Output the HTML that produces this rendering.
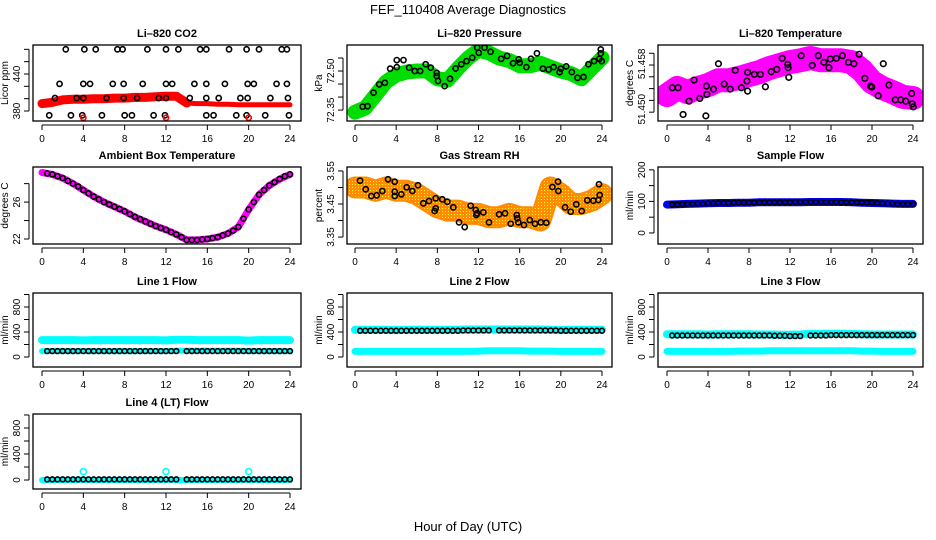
<!DOCTYPE html>
<html><head><meta charset="utf-8"><style>
html,body{margin:0;padding:0;background:#fff;}
svg{display:block;font-family:"Liberation Sans",Arial,sans-serif;}
</style></head><body>
<svg id="chart" width="936" height="540" viewBox="0 0 936 540" xmlns="http://www.w3.org/2000/svg">
<defs>
<pattern id="dots" width="3" height="3" patternUnits="userSpaceOnUse"><rect width="3" height="3" fill="#ff8c00"/><rect x="1" y="1" width="1" height="1" fill="#ffff00"/></pattern>
</defs>
<text x="468" y="14" font-size="13" text-anchor="middle">FEF_110408  Average Diagnostics</text>
<text x="468" y="531" font-size="13" text-anchor="middle">Hour of Day (UTC)</text>
</svg>
<script>
// ---------- data ----------
const hourTicks = [0,4,8,12,16,20,24];
const hourly = [0,1,2,3,4,5,6,7,8,9,10,11,12,13,14,15,16,17,18,19,20,21,22,23,24];
const halfHours = [0.5,1,1.5,2,2.5,3,3.5,4,4.5,5,5.5,6,6.5,7,7.5,8,8.5,9,9.5,10,10.5,11,11.5,12,12.5,13,13.5,14,14.5,15,15.5,16,16.5,17,17.5,18,18.5,19,19.5,20,20.5,21,21.5,22,22.5,23,23.5,24];
const flowHours = [0.5,1,1.5,2,2.5,3,3.5,4,4.5,5,5.5,6,6.5,7,7.5,8,8.5,9,9.5,10,10.5,11,11.5,12,12.5,13,14,14.5,15,15.5,16,16.5,17,17.5,18,18.5,19,19.5,20,20.5,21,21.5,22,22.5,23,23.5,24];

// CO2
const co2Band = [392,394,398,399,399,400,400,401,401,402,402,403,404,404,393,392,392,391,391,390,390,390,390,390,390];
const co2CircH = [2.3,4.1,5.2,7.3,7.8,10.2,12.0,13.2,15.3,15.9,18.1,19.8,21.0,23.2,23.7, 1.7,4.0,4.65,6.85,7.9,9.75,12.0,12.6,14.75,15.9,17.7,19.9,20.5,22.7,23.7, 1.25,3.35,4.0,6.25,7.9,9.2,11.3,12.0,14.3,15.9,17.1,19.2,19.9,22.1,23.8, 0.7,2.8,3.9,5.8,8.0,8.7,10.8,11.9,15.9,16.6,18.8,19.8,21.6,23.9];
const co2CircV = [480,480,480,480,480,480,480,480,480,480,480,480,480,480,480, 424,424,424,424,424,424,424,424,424,424,424,424,424,424,424, 401,401,401,401,401,401,401,401,401,401,401,401,401,401,401, 373,373,373,373,373,373,373,373,373,373,373,373,373,373];
const co2RedH = [4,12,20];
const co2RedV = [369,369,369];

// Pressure
const presBand = [72.342,72.358,72.408,72.458,72.485,72.496,72.50,72.50,72.47,72.465,72.51,72.55,72.58,72.57,72.55,72.54,72.52,72.52,72.53,72.515,72.50,72.49,72.47,72.51,72.55];
const presCircH = [0.74,1.22,1.8,2.35,2.9,3.42,4.06,4.06,4.71,5.26,5.81,6.33,6.87,7.36,7.94,7.94,8.07,8.71,9.23,9.78,10.33,10.84,11.39,11.87,12.03,12.59,13.17,14.2,14.78,15.36,15.91,16.0,16.65,17.1,17.68,18.26,18.81,19.3,19.88,20.0,20.52,21.07,21.62,22.2,22.68,23.23,23.75,23.88,23.88,23.97];
const presCircV = [72.363,72.365,72.417,72.449,72.455,72.509,72.515,72.542,72.542,72.513,72.50,72.50,72.526,72.513,72.493,72.481,72.462,72.442,72.470,72.510,72.526,72.538,72.551,72.590,72.570,72.590,72.574,72.547,72.558,72.530,72.545,72.532,72.515,72.547,72.568,72.509,72.506,72.515,72.496,72.509,72.518,72.496,72.474,72.477,72.526,72.538,72.547,72.583,72.568,72.538];

// Li-820 Temperature
const tempBand = [51.4529,51.4541,51.4534,51.4541,51.4546,51.4554,51.4554,51.4558,51.4563,51.4568,51.4575,51.4580,51.4585,51.4588,51.4592,51.4588,51.4588,51.4588,51.4585,51.4571,51.4551,51.4541,51.4534,51.4526,51.4524];
const tempCircH = [0.52,1.08,2.15,1.57,2.64,3.2,3.79,3.85,3.89,4.54,5.02,5.58,6.17,6.66,7.25,7.8,7.86,7.86,8.52,9.11,9.6,10.16,10.71,11.24,11.78,11.82,11.88,13.09,14.17,14.76,15.31,15.8,15.93,16.52,17.11,17.7,18.24,18.74,19.3,19.85,19.98,20.6,21.1,21.65,22.27,22.8,23.3,23.87,23.93,24.03];
const tempCircV = [51.45414,51.45414,51.45187,51.44961,51.45545,51.45233,51.44937,51.45443,51.45301,51.45391,51.45822,51.45477,51.45391,51.4571,51.45414,51.45528,51.45676,51.45357,51.45642,51.45642,51.45431,51.45686,51.45727,51.45914,51.45812,51.45754,51.45591,51.45958,51.45795,51.45958,51.45846,51.45754,51.45902,51.45914,51.45958,51.45846,51.45822,51.45982,51.45574,51.45443,51.45426,51.45277,51.45822,51.4546,51.45209,51.45209,51.45187,51.45318,51.45141,51.4509];

// Ambient box temperature
const ambBand = [29.2,29.0,28.6,28.0,27.3,26.6,26.0,25.5,25.0,24.4,23.9,23.4,23.0,22.5,21.9,21.9,22.0,22.2,22.6,23.3,25.2,26.8,27.8,28.5,29.0];
const ambCirc = [29.1,29.0,28.8,28.6,28.3,28.0,27.7,27.3,26.95,26.6,26.3,26.0,25.75,25.5,25.25,25.0,24.7,24.4,24.15,23.9,23.65,23.4,23.2,23.0,22.75,22.5,22.2,21.9,21.9,21.9,21.95,22.0,22.1,22.2,22.4,22.6,22.9,23.3,24.2,25.2,26.0,26.8,27.3,27.8,28.15,28.5,28.8,29.0];

// Gas stream RH
const rhBand = [3.50,3.50,3.49,3.50,3.49,3.49,3.48,3.46,3.44,3.43,3.43,3.42,3.42,3.41,3.41,3.42,3.41,3.41,3.40,3.50,3.48,3.45,3.45,3.46,3.48];
const rhCircH = [0.49,1.04,1.59,2.11,2.66,3.21,3.86,3.86,3.86,4.5,5.02,5.57,6.12,6.64,7.19,7.74,7.84,7.84,8.48,8.97,9.55,10.11,10.66,11.24,11.73,11.79,11.88,12.47,13.02,14.0,14.58,15.13,15.72,15.77,15.87,16.42,16.98,17.49,18.05,18.59,19.18,19.73,19.76,20.41,20.96,21.5,22.03,22.57,23.16,23.65,23.71,23.78];
const rhCircV = [3.5206,3.4945,3.4742,3.4764,3.4894,3.5248,3.5176,3.4873,3.4742,3.4794,3.5006,3.4894,3.5067,3.4521,3.4591,3.4288,3.4370,3.4673,3.4642,3.4570,3.4400,3.3945,3.3803,3.4448,3.4318,3.4167,3.4218,3.4248,3.3945,3.4188,3.4218,3.3903,3.4167,3.4067,3.3945,3.3864,3.4015,3.3903,3.3945,3.3933,3.5015,3.5176,3.4894,3.4400,3.4267,3.4491,3.4288,3.4612,3.4600,3.4621,3.5097,3.4773];

// Flows
const sampleBand = [90,91,92,93,94,95,95,96,96,97,97,97,97,97,98,98,98,98,97,96,95,94,93,92,92];
const sampleCirc = [90,90,91,92,92,93,93,94,94,95,95,95,96,96,96,96,96,97,97,97,97,97,97,97,98,98,98,98,98,98,98,98,98,97,97,97,97,96,96,96,95,94,93,93,92,92,92,92];
const line1Upper = [270,270,270,270,265,270,270,270,270,270,270,270,265,275,275,270,270,270,270,270,262,270,270,270,270];
const line1Lower = [95,95,95,95,95,95,95,95,95,95,95,95,95,100,100,100,100,100,100,100,95,95,95,95,95];
const line1Circ = [95,95,95,95,95,95,95,95,95,95,95,95,95,95,95,95,95,95,95,95,95,95,95,95,95,95,95,95,95,95,95,95,95,95,95,95,95,95,95,95,95,95,95,95,95,95,95];
const line2Upper = [435,435,435,435,430,435,435,435,435,435,435,440,440,440,440,440,440,440,440,435,430,435,435,435,435];
const line2Lower = [90,90,90,90,90,90,90,90,90,90,90,90,95,100,100,100,100,95,95,95,90,90,90,90,90];
const line2Circ = [420,420,420,420,420,420,420,420,420,420,420,420,420,420,420,420,420,420,420,420,425,425,425,425,425,425,425,425,425,425,425,425,425,425,425,425,425,425,420,420,420,420,420,420,420,420,420];
const line3Upper = [365,365,365,365,360,365,365,365,365,360,360,355,355,360,370,370,375,375,370,365,360,360,360,360,360];
const line3Lower = [90,90,90,90,90,90,90,95,95,95,100,100,100,100,100,100,100,100,100,95,95,90,90,90,90];
const line3Circ = [345,345,345,345,345,345,345,345,345,345,345,345,345,345,345,345,345,345,345,345,340,340,340,335,335,335,345,345,345,345,350,350,350,350,350,350,350,350,350,350,350,350,350,350,350,350,350];
const line4Band = [0,0,0,0,5,0,0,0,0,0,0,0,5,0,0,0,0,0,0,0,5,0,0,0,0];
const line4SpikeH = [4,12,20];
const line4SpikeV = [130,130,130];
const line4Circ = [10,10,10,10,10,10,10,10,10,10,10,10,10,10,10,10,10,10,10,10,10,10,10,10,10,10,10,10,10,10,10,10,10,10,10,10,10,10,10,10,10,10,10,10,10,10,10];

// ---------- rendering ----------
const NS = "http://www.w3.org/2000/svg";
const svg = document.getElementById('chart');
function mk(tag, attrs, parent){ const e=document.createElementNS(NS,tag); for(const k in attrs) e.setAttribute(k,attrs[k]); (parent||svg).appendChild(e); return e; }

const cols = [{x0:33,x1:301,h0:42,h24:290},{x0:347,x1:612,h0:355,h24:602},{x0:658,x1:923,h0:667,h24:913}];
const rows = [{y0:45,y1:121},{y0:167,y1:244},{y0:293,y1:367},{y0:414,y1:489}];

function panel(name, title, ylab, c, r, ymin, ymax, yticks, ylabels, draw){
  const col=cols[c], row=rows[r];
  const g = mk('g',{});
  
  
  const sx = h => col.h0 + (col.h24-col.h0)*h/24;
  const sy = v => row.y1 - (v-ymin)/(ymax-ymin)*(row.y1-row.y0);
  const clip = mk('clipPath',{id:'clip-'+name}, g);
  mk('rect',{x:col.x0,y:row.y0,width:col.x1-col.x0,height:row.y1-row.y0}, clip);
  const plot = mk('g',{'clip-path':'url(#clip-'+name+')'}, g);
  draw(plot, sx, sy);
  const box = mk('rect',{x:col.x0,y:row.y0,width:col.x1-col.x0,height:row.y1-row.y0,fill:'none',stroke:'#000','stroke-width':1.3}, g);
  
  
  const t = mk('text',{x:(col.x0+col.x1)/2,y:row.y0-8,'font-size':11,'font-weight':'bold','text-anchor':'middle'}, g);
  t.textContent = title;
  
  
  const xa = mk('g',{}, g);
  
  
  mk('line',{x1:sx(0),x2:sx(24),y1:row.y1+4,y2:row.y1+4,stroke:'#000'}, xa);
  hourTicks.forEach(h=>{
    mk('line',{x1:sx(h),x2:sx(h),y1:row.y1+4,y2:row.y1+9,stroke:'#000'}, xa);
    const tl = mk('text',{x:sx(h),y:row.y1+21,'font-size':10,'text-anchor':'middle'}, xa);
    tl.textContent = h;
  });
  const ya = mk('g',{}, g);
  
  
  const ax = col.x0-4;
  mk('line',{x1:ax,x2:ax,y1:sy(yticks[0]),y2:sy(yticks[yticks.length-1]),stroke:'#000'}, ya);
  yticks.forEach(v=>{ mk('line',{x1:ax-5,x2:ax,y1:sy(v),y2:sy(v),stroke:'#000'}, ya); });
  ylabels.forEach(([v,s])=>{
    const tl = mk('text',{x:0,y:0,'font-size':10,'text-anchor':'middle',transform:`translate(${col.x0-13},${sy(v)}) rotate(-90)`}, ya);
    tl.textContent = s;
  });
  const yl = mk('text',{x:0,y:0,'font-size':10,'text-anchor':'middle',transform:`translate(${col.x0-25},${(row.y0+row.y1)/2}) rotate(-90)`}, g);
  yl.textContent = ylab;
  
  
}

function band(g, sx, sy, hs, vs, color, w, name){
  const d = hs.map((h,i)=>(i?'L':'M')+sx(h).toFixed(1)+','+sy(vs[i]).toFixed(1)).join('');
  const p = mk('path',{d:d,fill:'none',stroke:color,'stroke-width':w,'stroke-linejoin':'round','stroke-linecap':'round'}, g);
  
  
}
function circles(g, sx, sy, hs, vs, color, r, name){
  const gg = mk('g',{}, g);
  
  
  hs.forEach((h,i)=>{ mk('circle',{cx:sx(h),cy:sy(vs[i]),r:r||2.6,fill:'none',stroke:color,'stroke-width':1.6}, gg); });
}

panel('li820-co2','Li\u2013820 CO2','Licor ppm',0,0,363.8,487,[380,400,420,440,460,480],[[380,'380'],[440,'440']],(g,sx,sy)=>{
  band(g,sx,sy,hourly.slice(0,15),co2Band.slice(0,15),'#ff0000',9,'co2-band-day');
  band(g,sx,sy,hourly.slice(14),co2Band.slice(14),'#ff0000',5,'co2-band-night');
  circles(g,sx,sy,co2CircH,co2CircV,'#000',2.6,'co2-hourly-points');
  circles(g,sx,sy,co2RedH,co2RedV,'#ff0000',2.6,'co2-red-points');
});
panel('li820-pressure','Li\u2013820 Pressure','kPa',1,0,72.308,72.6,[72.35,72.40,72.45,72.50,72.55],[[72.35,'72.35'],[72.50,'72.50']],(g,sx,sy)=>{
  band(g,sx,sy,hourly,presBand,'#00dd00',15,'pressure-band');
  circles(g,sx,sy,presCircH,presCircV,'#000',2.6,'pressure-points');
});
panel('li820-temperature','Li\u2013820 Temperature','degrees C',2,0,51.4485,51.4614,[51.450,51.452,51.454,51.456,51.458,51.460],[[51.4505,'51.450'],[51.4582,'51.458']],(g,sx,sy)=>{
  band(g,sx,sy,hourly,tempBand,'#ff00ff',24,'temperature-band');
  circles(g,sx,sy,tempCircH,tempCircV,'#000',2.8,'temperature-points');
});
panel('ambient-box-temp','Ambient Box Temperature','degrees C',0,1,21.46,29.8,[22,24,26,28],[[22,'22'],[26,'26']],(g,sx,sy)=>{
  band(g,sx,sy,hourly,ambBand,'#ff00ff',7,'ambient-band');
  circles(g,sx,sy,halfHours,ambCirc,'#000',2.5,'ambient-points');
});
panel('gas-stream-rh','Gas Stream RH','percent',1,1,3.329,3.562,[3.35,3.40,3.45,3.50,3.55],[[3.35,'3.35'],[3.45,'3.45'],[3.55,'3.55']],(g,sx,sy)=>{
  band(g,sx,sy,hourly,rhBand,'#ff8c00',22,'rh-band');
  band(g,sx,sy,hourly,rhBand,'url(#dots)',18,'rh-band-texture');
  circles(g,sx,sy,rhCircH,rhCircV,'#000',2.6,'rh-points');
});
panel('sample-flow','Sample Flow','ml/min',2,1,-35,209,[0,50,100,150,200],[[0,'0'],[100,'100'],[200,'200']],(g,sx,sy)=>{
  band(g,sx,sy,hourly,sampleBand,'#0000ee',8,'sample-flow-band');
  circles(g,sx,sy,halfHours,sampleCirc,'#000',2.4,'sample-flow-points');
});
const flowTicks=[0,200,400,600,800,1000], flowLabels=[[0,'0'],[400,'400'],[800,'800']];
panel('line1-flow','Line 1 Flow','ml/min',0,2,-160,1024,flowTicks,flowLabels,(g,sx,sy)=>{
  band(g,sx,sy,hourly,line1Upper,'#00ffff',8,'line1-upper-band');
  band(g,sx,sy,hourly,line1Lower,'#00ffff',6,'line1-lower-band');
  circles(g,sx,sy,flowHours,line1Circ,'#000',2.4,'line1-points');
});
panel('line2-flow','Line 2 Flow','ml/min',1,2,-160,1024,flowTicks,flowLabels,(g,sx,sy)=>{
  band(g,sx,sy,hourly,line2Upper,'#00ffff',8,'line2-upper-band');
  band(g,sx,sy,hourly,line2Lower,'#00ffff',7,'line2-lower-band');
  circles(g,sx,sy,flowHours,line2Circ,'#000',2.4,'line2-points');
});
panel('line3-flow','Line 3 Flow','ml/min',2,2,-160,1024,flowTicks,flowLabels,(g,sx,sy)=>{
  band(g,sx,sy,hourly,line3Upper,'#00ffff',8,'line3-upper-band');
  band(g,sx,sy,hourly,line3Lower,'#00ffff',7,'line3-lower-band');
  circles(g,sx,sy,flowHours,line3Circ,'#000',2.4,'line3-points');
});
panel('line4-flow','Line 4 (LT) Flow','ml/min',0,3,-138,1015,flowTicks,flowLabels,(g,sx,sy)=>{
  band(g,sx,sy,hourly,line4Band,'#00ffff',6,'line4-band');
  circles(g,sx,sy,line4SpikeH,line4SpikeV,'#00ffff',3,'line4-spikes');
  circles(g,sx,sy,flowHours,line4Circ,'#000',2.4,'line4-points');
});
</script>
</body></html>
